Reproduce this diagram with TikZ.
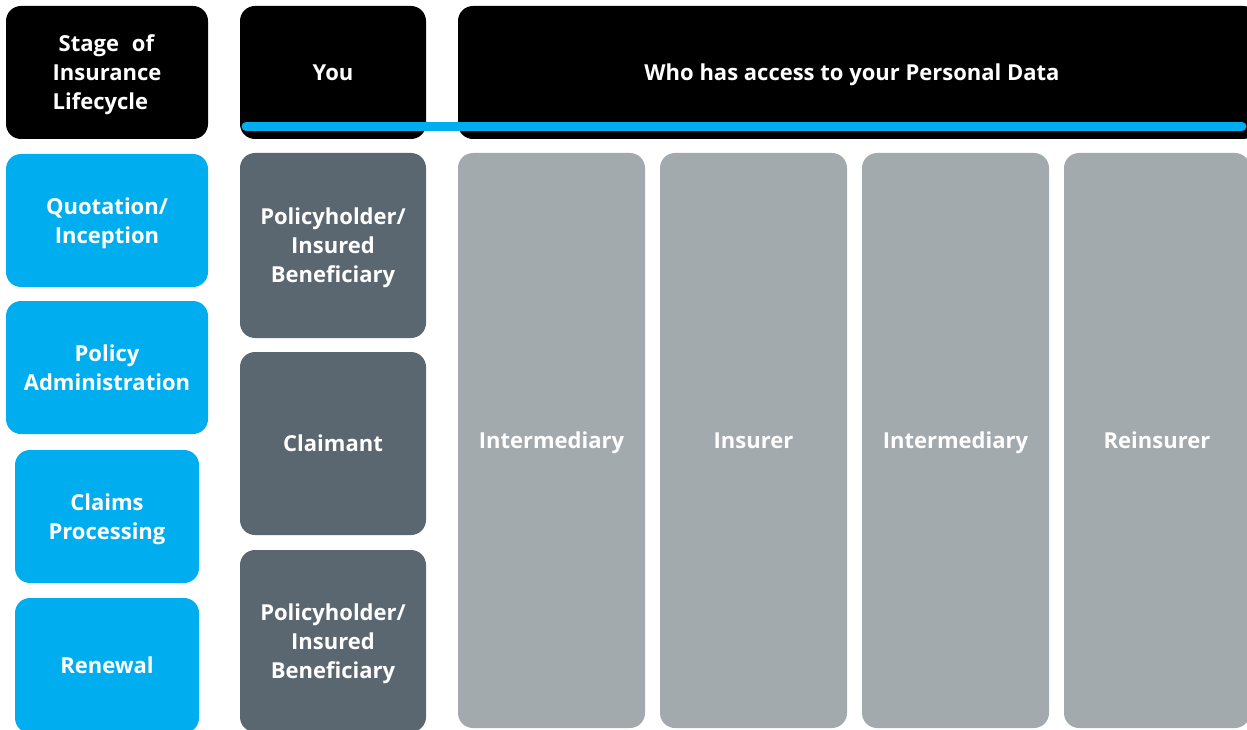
\documentclass[tikz,border=0pt]{standalone}
\usepackage{fontspec}
\setmainfont{Open Sans}
\usetikzlibrary{positioning}
\definecolor{stageblue}{RGB}{0,174,239}
\definecolor{roledark}{RGB}{91,103,112}
\definecolor{partygray}{RGB}{162,170,173}
\tikzstyle{cell}=[rounded corners=15pt, inner sep=0pt, text=white, align=center, text depth=-0.15em, font=\fontsize{22}{29}\selectfont\bfseries]
\tikzstyle{headbox}=[cell, fill=black]
\tikzstyle{stagebox}=[cell, fill=stageblue]
\tikzstyle{rolebox}=[cell, fill=roledark]
\tikzstyle{partybox}=[cell, fill=partygray]
\tikzstyle{accentline}=[draw=stageblue, line width=9pt, line cap=round]

\begin{document}
\begin{tikzpicture}[x=1pt, y=-1pt]
    \useasboundingbox (0,0) rectangle (1247,730);

    % header row
    \node[headbox, minimum width=202pt, minimum height=133pt, align=left] (stagehead) at (107, 72.5) {\hspace*{6pt}Stage\hspace{13pt}of\\Insurance\\Lifecycle};
    \node[headbox, minimum width=186pt, minimum height=133pt] (youhead) at (333, 72.5) {You};
    \node[headbox, minimum width=800pt, minimum height=133pt] (accesshead) at (858, 72.5) {};
    \node[cell] (accesslabel) at (852, 72.5) {Who has access to your Personal Data};

    % stages of the lifecycle
    \node[stagebox, minimum width=202pt, minimum height=133pt] (quote) at (107, 220.5) {Quotation/\\Inception};
    \node[stagebox, minimum width=202pt, minimum height=133pt] (admin) at (107, 367.5) {Policy\\Administration};
    \node[stagebox, minimum width=184pt, minimum height=133pt] (claims) at (107, 516.5) {Claims\\Processing};
    \node[stagebox, minimum width=184pt, minimum height=135pt] (renewal) at (107, 665.5) {Renewal};

    % you
    \node[rolebox, minimum width=186pt, minimum height=185pt] (holder1) at (333, 245.5) {Policyholder/\\Insured\\Beneficiary};
    \node[rolebox, minimum width=186pt, minimum height=183pt] (claimant) at (333, 443.5) {Claimant};
    \node[rolebox, minimum width=186pt, minimum height=182pt] (holder2) at (333, 641) {Policyholder/\\Insured\\Beneficiary};

    % who has access
    \node[partybox, minimum width=187pt, minimum height=575pt] (inter1) at (551.5, 440.5) {Intermediary};
    \node[partybox, minimum width=187pt, minimum height=575pt] (insurer) at (753.5, 440.5) {Insurer};
    \node[partybox, minimum width=187pt, minimum height=575pt] (inter2) at (955.5, 440.5) {Intermediary};
    \node[partybox, minimum width=186pt, minimum height=575pt] (reins) at (1157, 440.5) {Reinsurer};

    % blue rule under the header
    \coordinate (ruleL) at (246, 126.5);
    \coordinate (ruleR) at (1242, 126.5);
    \draw[accentline] (ruleL) -- (ruleR);
\end{tikzpicture}
\end{document}
